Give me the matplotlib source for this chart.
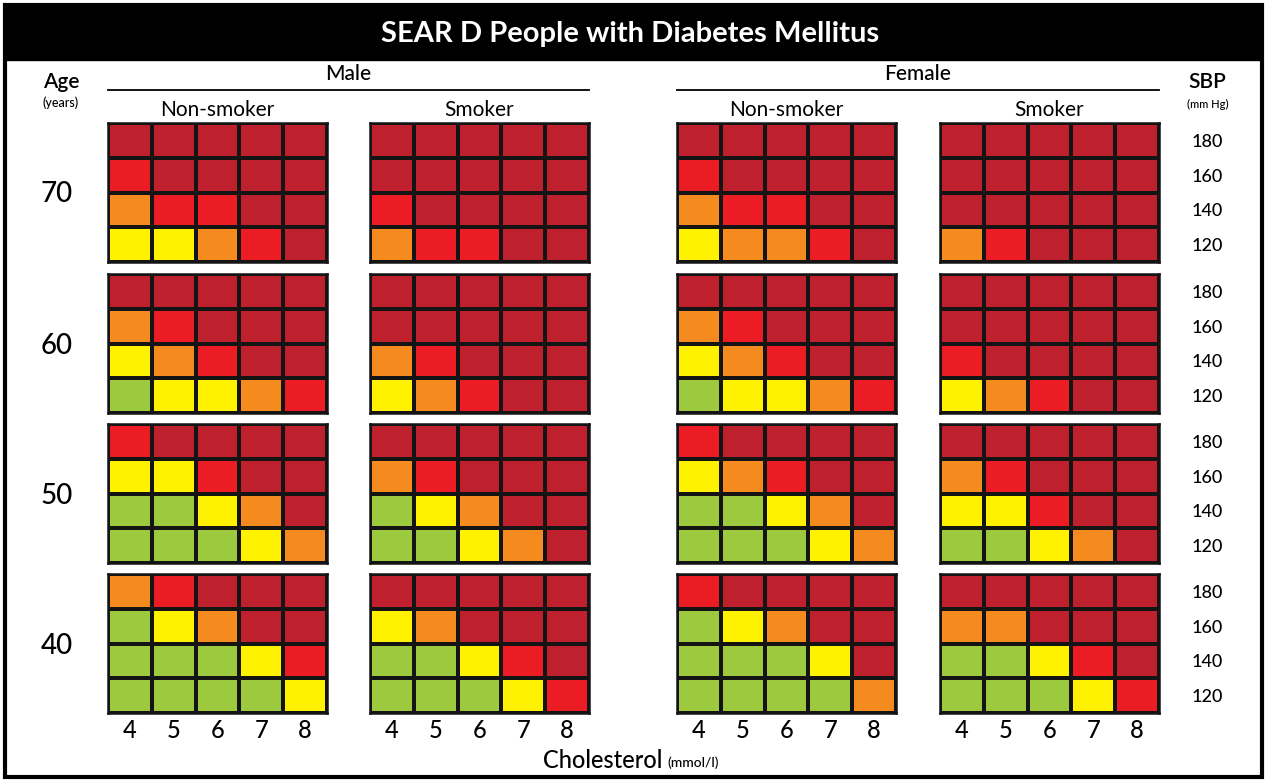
import numpy as np
import matplotlib
matplotlib.use("Agg")
import matplotlib.pyplot as plt
from matplotlib.colors import ListedColormap, BoundaryNorm
from matplotlib.patches import Rectangle

plt.rcParams['font.family'] = ['Lato', 'DejaVu Sans']
plt.rcParams['font.weight'] = 'medium'

cholesterol = [4, 5, 6, 7, 8]
sbp = [180, 160, 140, 120]
ages = [70, 60, 50, 40]
sexes = ['Male', 'Female']
smoking = ['Non-smoker', 'Smoker']

# risk level colours: <10%, 10-20%, 20-30%, 30-40%, >=40%
level_colors = ['#9cc93d', '#fff200', '#f58a1f', '#ec1c24', '#be202e']

# risk level per cell, rows = SBP 180..120, columns = cholesterol 4..8
# order within each age: male non-smoker, male smoker, female non-smoker, female smoker
age70 = [
    [[4, 4, 4, 4, 4], [3, 4, 4, 4, 4], [2, 3, 3, 4, 4], [1, 1, 2, 3, 4]],
    [[4, 4, 4, 4, 4], [4, 4, 4, 4, 4], [3, 4, 4, 4, 4], [2, 3, 3, 4, 4]],
    [[4, 4, 4, 4, 4], [3, 4, 4, 4, 4], [2, 3, 3, 4, 4], [1, 2, 2, 3, 4]],
    [[4, 4, 4, 4, 4], [4, 4, 4, 4, 4], [4, 4, 4, 4, 4], [2, 3, 4, 4, 4]],
]
age60 = [
    [[4, 4, 4, 4, 4], [2, 3, 4, 4, 4], [1, 2, 3, 4, 4], [0, 1, 1, 2, 3]],
    [[4, 4, 4, 4, 4], [4, 4, 4, 4, 4], [2, 3, 4, 4, 4], [1, 2, 3, 4, 4]],
    [[4, 4, 4, 4, 4], [2, 3, 4, 4, 4], [1, 2, 3, 4, 4], [0, 1, 1, 2, 3]],
    [[4, 4, 4, 4, 4], [4, 4, 4, 4, 4], [3, 4, 4, 4, 4], [1, 2, 3, 4, 4]],
]
age50 = [
    [[3, 4, 4, 4, 4], [1, 1, 3, 4, 4], [0, 0, 1, 2, 4], [0, 0, 0, 1, 2]],
    [[4, 4, 4, 4, 4], [2, 3, 4, 4, 4], [0, 1, 2, 4, 4], [0, 0, 1, 2, 4]],
    [[3, 4, 4, 4, 4], [1, 2, 3, 4, 4], [0, 0, 1, 2, 4], [0, 0, 0, 1, 2]],
    [[4, 4, 4, 4, 4], [2, 3, 4, 4, 4], [1, 1, 3, 4, 4], [0, 0, 1, 2, 4]],
]
age40 = [
    [[2, 3, 4, 4, 4], [0, 1, 2, 4, 4], [0, 0, 0, 1, 3], [0, 0, 0, 0, 1]],
    [[4, 4, 4, 4, 4], [1, 2, 4, 4, 4], [0, 0, 1, 3, 4], [0, 0, 0, 1, 3]],
    [[3, 4, 4, 4, 4], [0, 1, 2, 4, 4], [0, 0, 0, 1, 4], [0, 0, 0, 0, 2]],
    [[4, 4, 4, 4, 4], [2, 2, 4, 4, 4], [0, 0, 1, 3, 4], [0, 0, 0, 1, 3]],
]
risk = [age70, age60, age50, age40]

W, H = 1267, 781
fig = plt.figure(figsize=(W / 100, H / 100), dpi=100)

# background layer in pixel units for frame, header and labels
bg = fig.add_axes([0, 0, 1, 1])
bg.set_xlim(0, W)
bg.set_ylim(H, 0)
bg.axis('off')
bg.add_patch(Rectangle((5, 5), W - 10, H - 9, fill=False, lw=3, ec='black'))
bg.add_patch(Rectangle((5, 5), W - 10, 55, color='black'))
bg.text(W / 2 - 3, 34, 'SEAR D People with Diabetes Mellitus', color='white',
        fontsize=21, fontweight='bold', ha='center', va='center')

bg.text(61, 82, 'Age', fontsize=15, fontweight='semibold', ha='center', va='center')
bg.text(61, 103, '(years)', fontsize=9, ha='center', va='center')
bg.text(1207, 82, 'SBP', fontsize=15, fontweight='semibold', ha='center', va='center')
bg.text(1208, 104, '(mm Hg)', fontsize=8, ha='center', va='center')

lefts = [108, 370, 677, 940]
tops = [123, 274, 424, 574]
pw, ph = 219, 139

for s, sex in enumerate(sexes):
    x0, x1 = lefts[2 * s], lefts[2 * s + 1] + pw
    bg.text((x0 + x1) / 2, 74, sex, fontsize=15, ha='center', va='center')
    bg.plot([x0, x1], [90, 90], color='black', lw=1.3)

for a, age in enumerate(ages):
    bg.text(57, tops[a] + ph / 2 + 2, str(age), fontsize=20, ha='center', va='center')

bg.text(662, 760, 'Cholesterol', fontsize=17, ha='right', va='center')
bg.text(667, 763, '(mmol/l)', fontsize=10, ha='left', va='center')

cmap = ListedColormap(level_colors)
norm = BoundaryNorm(np.arange(-0.5, 5.5, 1), cmap.N)

for a in range(len(ages)):
    for g in range(4):
        ax = fig.add_axes([lefts[g] / W, 1 - (tops[a] + ph) / H, pw / W, ph / H])
        grid = np.array(risk[a][g])
        ax.pcolormesh(np.arange(len(cholesterol) + 1), np.arange(len(sbp) + 1), grid,
                      cmap=cmap, norm=norm, edgecolors='#141414', linewidth=1.6)
        ax.set_xlim(0, len(cholesterol))
        ax.set_ylim(len(sbp), 0)
        for sp in ax.spines.values():
            sp.set_linewidth(1.8)
            sp.set_color('#141414')
        ax.tick_params(length=0)
        if a == len(ages) - 1:
            ax.set_xticks(np.arange(len(cholesterol)) + 0.5)
            ax.set_xticklabels([str(c) for c in cholesterol], fontsize=17)
            ax.tick_params(axis='x', pad=4)
        else:
            ax.set_xticks([])
        if g == 3:
            ax.yaxis.tick_right()
            ax.set_yticks(np.arange(len(sbp)) + 0.5)
            ax.set_yticklabels([str(v) for v in sbp], fontsize=13)
            for lbl in ax.get_yticklabels():
                lbl.set_horizontalalignment('center')
            ax.tick_params(axis='y', pad=35)
        else:
            ax.set_yticks([])
        if a == 0:
            ax.set_title(smoking[g % 2], fontsize=15, pad=5)

fig.savefig('out.png', dpi=100)
